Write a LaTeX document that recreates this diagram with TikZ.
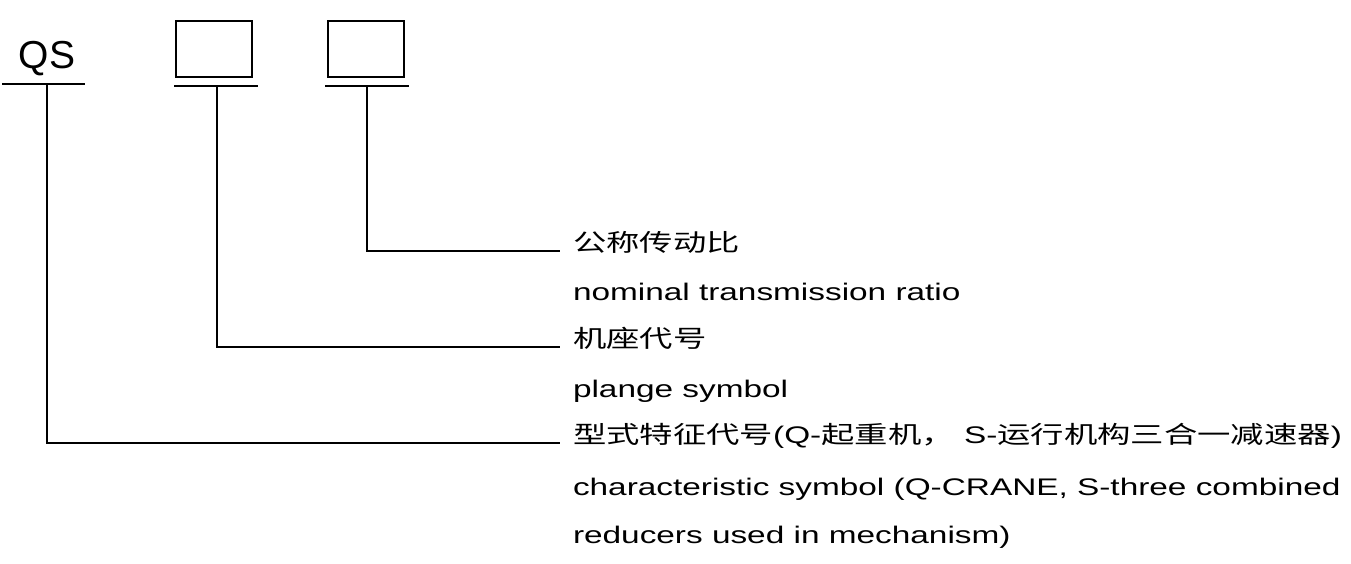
\documentclass[tikz,border=0pt]{standalone}
\usepackage{fontspec}
\setmainfont{Liberation Sans}[FakeStretch=1.39]
\newfontfamily\qsfont{Liberation Sans}
\newfontfamily\cjk{Noto Sans CJK SC}[FakeStretch=1.39]

\begin{document}
\begin{tikzpicture}[x=0.5pt,y=-0.5pt,line width=1pt,
	codebox/.style={draw,minimum width=38pt,minimum height=28pt,inner sep=0pt},
	label/.style={anchor=base west,inner sep=0pt,font=\fontsize{12}{24}\selectfont}]
\useasboundingbox (0,0) rectangle (1351,563);
\node[anchor=base,inner sep=0pt,font=\qsfont\fontsize{19.5}{24}\selectfont] (qs) at (47,68) {QS};
\node[codebox] (frame) at (214,49) {};
\node[codebox] (ratio) at (365.5,49) {};
\coordinate (qs-a) at (2,84);
\coordinate (qs-b) at (85,84);
\coordinate (qs-c) at (47,84);
\coordinate (frame-a) at (174,86);
\coordinate (frame-b) at (258,86);
\coordinate (frame-c) at (217,86);
\coordinate (ratio-a) at (325,86);
\coordinate (ratio-b) at (409,86);
\coordinate (ratio-c) at (367,86);
\draw (qs-a) -- (qs-b) (frame-a) -- (frame-b) (ratio-a) -- (ratio-b);
% labels
\node[label] (ratio-cn) at (572,251) {\cjk 公称传动比};
\node[label] (ratio-en) at ([yshift=-24.5pt]ratio-cn.base west) {nominal transmission ratio};
\node[label] (frame-cn) at (572,347) {\cjk 机座代号};
\node[label] (frame-en) at ([yshift=-25pt]frame-cn.base west) {plange symbol};
\node[label] (type-cn) at (572,443) {{\cjk 型式特征代号}(Q-{\cjk 起重机，} S-{\cjk 运行机构三合一减速器})};
\node[label] (type-en) at ([yshift=-26pt]type-cn.base west) {characteristic symbol (Q-CRANE, S-three combined};
\node[label] (type-en2) at ([yshift=-24pt]type-en.base west) {reducers used in mechanism)};
% leaders
\draw (ratio-c) |- ([xshift=-6pt]ratio-cn.base west);
\draw (frame-c) |- ([xshift=-6pt]frame-cn.base west);
\draw (qs-c) |- ([xshift=-6pt]type-cn.base west);
\end{tikzpicture}
\end{document}
